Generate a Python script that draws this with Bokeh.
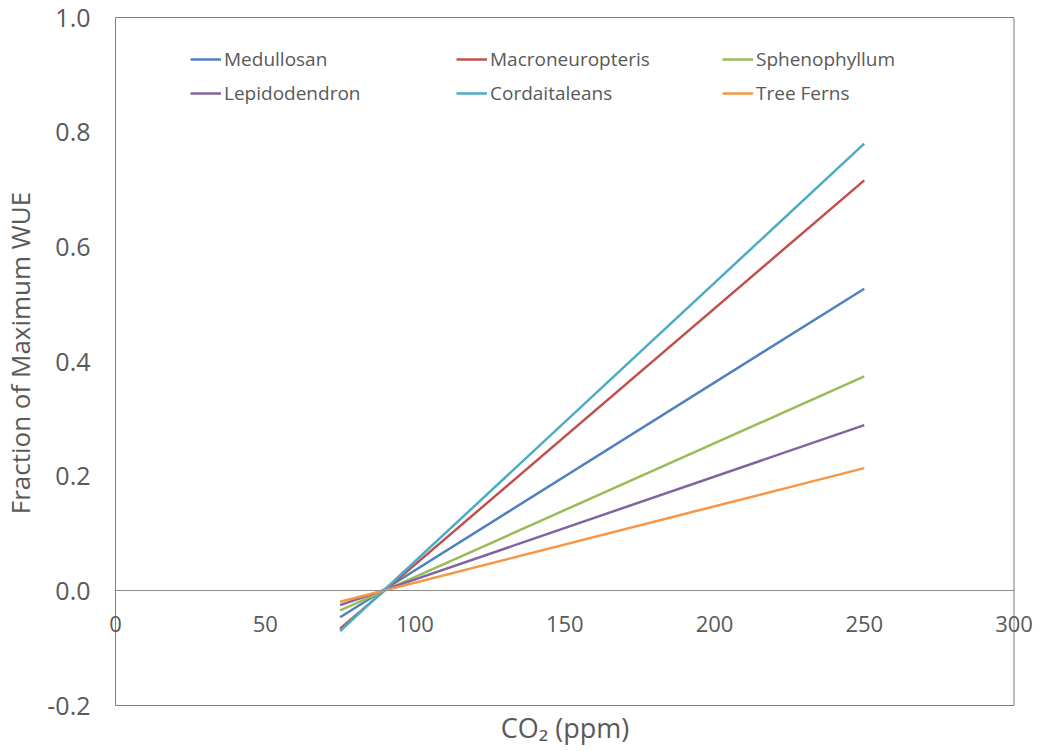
from bokeh.plotting import figure
from bokeh.models import Legend, LegendItem, Range1d, PrintfTickFormatter, FixedTicker
from bokeh.embed import file_html
from bokeh.resources import INLINE

# ---- data ----
co2 = [75, 250]
medullosan = [-0.046, 0.527]
macroneuropteris = [-0.066, 0.716]
sphenophyllum = [-0.034, 0.374]
lepidodendron = [-0.025, 0.289]
cordaitaleans = [-0.070, 0.780]
tree_ferns = [-0.019, 0.214]
series_names = ["Medullosan", "Macroneuropteris", "Sphenophyllum",
                "Lepidodendron", "Cordaitaleans", "Tree Ferns"]
series_values = [medullosan, macroneuropteris, sphenophyllum,
                 lepidodendron, cordaitaleans, tree_ferns]
series_colors = ["#4F81BD", "#C0504D", "#9BBB59", "#8064A2", "#4BACC6", "#F79646"]
x_ticks = [0, 50, 100, 150, 200, 250, 300]
y_ticks = [-0.2, 0.0, 0.2, 0.4, 0.6, 0.8, 1.0]
x_min, x_max = 0, 300
y_min, y_max = -0.2, 1.0
x_axis_cross = 0.0
y_axis_cross = 0

# ---- layout (pixels) ----
W, H = 1039, 751
PL, PR, PT, PB = 115, 1013.5, 17, 705   # plot-area box in the canvas
sx = (PR - PL) / (x_max - x_min)
sy = (PB - PT) / (y_max - y_min)
xr = Range1d(x_min - PL / sx, x_max + (W - PR) / sx)
yr = Range1d(y_min - (H - PB) / sy, y_max + PT / sy)

FONT = "Open Sans"
TXT = "#595959"
BORDER = "#7f7f7f"

p = figure(width=W, height=H, output_backend="svg", toolbar_location=None,
           x_range=xr, y_range=yr, min_border=0)
p.background_fill_color = "white"
p.border_fill_color = "white"
p.outline_line_color = None
p.grid.visible = False

# plot-area border
p.quad(left=[x_min], right=[x_max], bottom=[y_min], top=[y_max],
       fill_color=None, line_color=BORDER, line_width=1)

# x axis crossing at y = 0
xa = p.xaxis[0]
xa.fixed_location = x_axis_cross
xa.bounds = (x_min, x_max)
xa.ticker = FixedTicker(ticks=x_ticks)
xa.axis_line_color = "#8c8c8c"
xa.major_tick_out = 0
xa.major_tick_in = 0
xa.minor_tick_out = 0
xa.minor_tick_in = 0
xa.major_label_standoff = 25
xa.major_label_text_font = FONT
xa.major_label_text_font_size = "22px"
xa.major_label_text_color = TXT
xa.axis_label = "CO\u2082 (ppm)"
xa.axis_label_standoff = 74
xa.axis_label_text_font = FONT
xa.axis_label_text_font_size = "27px"
xa.axis_label_text_font_style = "normal"
xa.axis_label_text_color = TXT

# y axis at x = 0
ya = p.yaxis[0]
ya.fixed_location = y_axis_cross
ya.bounds = (y_min, y_max + 0.042)
ya.ticker = FixedTicker(ticks=y_ticks)
ya.formatter = PrintfTickFormatter(format="%.1f")
ya.axis_line_color = None
ya.major_tick_out = 0
ya.major_tick_in = 0
ya.minor_tick_out = 0
ya.minor_tick_in = 0
ya.major_label_standoff = 25
ya.major_label_text_font = FONT
ya.major_label_text_font_size = "25px"
ya.major_label_text_color = TXT
ya.axis_label = "Fraction of Maximum WUE"
ya.axis_label_standoff = 6
ya.axis_label_text_font = FONT
ya.axis_label_text_font_size = "26px"
ya.axis_label_text_font_style = "normal"
ya.axis_label_text_color = TXT

items = []
for name, vals, col in zip(series_names, series_values, series_colors):
    r = p.line(co2, vals, line_color=col, line_width=2.5)
    items.append(LegendItem(label=name, renderers=[r]))

legend = Legend(items=items, location=(190, 641), orientation="horizontal", ncols=3,
                padding=0, margin=0, spacing=0,
                glyph_width=31, glyph_height=34, label_height=34, label_width=232,
                label_standoff=3,
                label_text_font=FONT, label_text_font_size="19px",
                label_text_color=TXT,
                border_line_color=None, background_fill_alpha=0)
p.add_layout(legend, "center")

open("out.html", "w").write(file_html(p, INLINE))
